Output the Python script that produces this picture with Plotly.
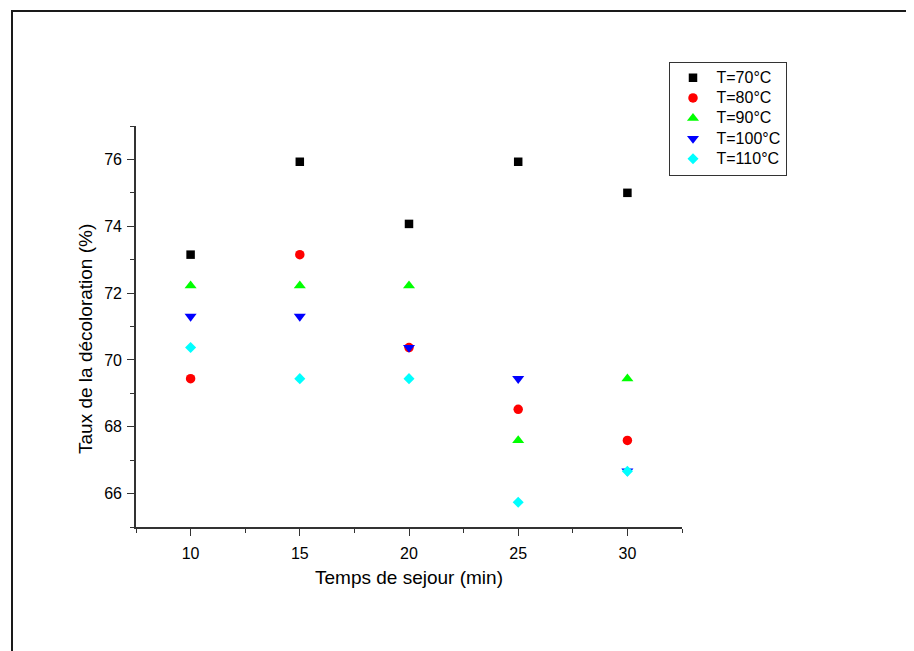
import plotly.graph_objects as go

# Data
temps = [10, 15, 20, 25, 30]
series_names = ["T=70°C", "T=80°C", "T=90°C", "T=100°C", "T=110°C"]
t70 = [73.15, 75.93, 74.07, 75.93, 75.00]
t80 = [69.44, 73.15, 70.37, 68.52, 67.59]
t90 = [72.22, 72.22, 72.22, 67.59, 69.44]
t100 = [71.30, 71.30, 70.37, 69.44, 66.67]
t110 = [70.37, 69.44, 69.44, 65.74, 66.67]

x_ticks = [10, 15, 20, 25, 30]
y_ticks = [66, 68, 70, 72, 74, 76]
x_title = "Temps de sejour (min)"
y_title = "Taux de la décoloration (%)"

series = [t70, t80, t90, t100, t110]
colors = ["#000000", "#FF0000", "#00FF00", "#0000FF", "#00FFFF"]
symbols = ["square", "circle", "triangle-up", "triangle-down", "diamond"]
sizes = [8.5, 9.5, 10.5, 10.5, 8.5]

FONT = "Liberation Sans, Arial, sans-serif"

fig = go.Figure()
for name, vals, c, s, sz in zip(series_names, series, colors, symbols, sizes):
    fig.add_trace(go.Scatter(
        x=temps, y=vals, mode="markers",
        name="<span style='font-size:16px'>" + name + "</span>",
        marker=dict(color=c, symbol=s, size=sz, line=dict(width=0)),
    ))

# page is rendered with an 8px body offset; work in page coordinates
OFF = 8
W, H = 914, 651
PL, PR, PT, PB = 136, 682, 126, 527  # plot area in page px
L = PL - OFF
T = PT - OFF
pw = PR - PL
ph = PB - PT
R = W - L - pw
B = H - T - ph

def px_x(p):
    return (p - PL) / pw

def px_y(p):
    return (PB - p) / ph

fig.update_layout(
    width=W, height=H,
    margin=dict(l=L, r=R, t=T, b=B, autoexpand=False),
    paper_bgcolor="white", plot_bgcolor="white",
    font=dict(family=FONT, color="black", size=16),
    showlegend=True,
    legend=dict(
        x=px_x(668.5), y=px_y(61.5), xanchor="left", yanchor="top",
        bordercolor="#333333", borderwidth=1, bgcolor="white",
        font=dict(family=FONT, size=13.3, color="black"),
        itemsizing="trace", itemwidth=37,
    ),
    xaxis=dict(
        range=[7.5, 32.5], tickvals=x_ticks, ticks="outside", ticklen=7,
        tickwidth=1.3, tickcolor="#333333",
        showline=True, linecolor="#333333", linewidth=1.6,
        showgrid=False, zeroline=False, mirror=False,
        tickfont=dict(size=16, family=FONT, color="black"),
        ticklabelstandoff=4,
        minor=dict(dtick=2.5, tick0=7.5, ticks="outside", ticklen=4,
                   tickwidth=1.3, tickcolor="#333333", showgrid=False),
        title=dict(text=x_title, font=dict(size=19, family=FONT, color="black"),
                   standoff=10),
        automargin=False,
    ),
    yaxis=dict(
        range=[65, 77], tickvals=y_ticks, ticks="outside", ticklen=7,
        tickwidth=1.3, tickcolor="#333333",
        showline=True, linecolor="#333333", linewidth=1.6,
        showgrid=False, zeroline=False, mirror=False,
        tickfont=dict(size=16, family=FONT, color="black"),
        ticklabelstandoff=2,
        minor=dict(dtick=1, tick0=65, ticks="outside", ticklen=4,
                   tickwidth=1.3, tickcolor="#333333", showgrid=False),
        automargin=False,
    ),
    annotations=[
        dict(text=y_title, xref="paper", yref="paper",
             x=px_x(85), y=px_y(339), xanchor="center", yanchor="middle",
             textangle=-90, showarrow=False,
             font=dict(size=19, family=FONT, color="black")),
    ],
    shapes=[
        dict(type="rect", xref="paper", yref="paper",
             x0=px_x(12), x1=px_x(W + 30), y0=px_y(H + 30), y1=px_y(11),
             line=dict(color="#1a1a1a", width=2), fillcolor="rgba(0,0,0,0)", layer="above"),
    ],
)

fig.write_html("out.html")
